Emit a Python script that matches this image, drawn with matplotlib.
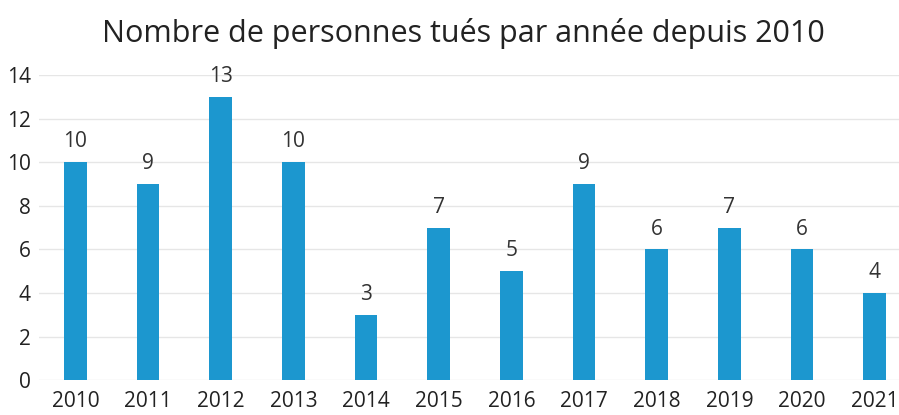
import matplotlib
matplotlib.use("Agg")
import matplotlib.pyplot as plt

years = ["2010", "2011", "2012", "2013", "2014", "2015", "2016", "2017", "2018", "2019", "2020", "2021"]
killed = [10, 9, 13, 10, 3, 7, 5, 9, 6, 7, 6, 4]
yticks = [0, 2, 4, 6, 8, 10, 12, 14]
title = "Nombre de personnes tués par année depuis 2010"

plt.rcParams['font.family'] = ['Open Sans', 'DejaVu Sans']

fig = plt.figure(figsize=(8.99, 4.15), dpi=100)
ax = fig.add_axes([0.0434, 0.084, 0.970, 0.735])

x = list(range(len(years)))
bars = ax.bar(x, killed, width=0.31, color="#1c97cf", zorder=3)
for xi, v in zip(x, killed):
    ax.text(xi, v + 0.45, str(v), ha="center", va="bottom", fontsize=15, color="#333333")

ax.set_xlim(-0.5, 11.5)
ax.set_ylim(0, 14)
ax.set_yticks(yticks)
ax.set_xticks(x)
ax.set_xticklabels(years)
ax.tick_params(axis="both", length=0, labelsize=15, colors="#222222")
ax.tick_params(axis="x", pad=8)
ax.tick_params(axis="y", pad=6)
ax.grid(axis="y", color="#e6e6e6", linewidth=1, zorder=0)
for s in ax.spines.values():
    s.set_visible(False)

fig.text(0.515, 0.92, title, ha="center", va="center", fontsize=22, color="#222222")

fig.savefig("out.png", dpi=100)
